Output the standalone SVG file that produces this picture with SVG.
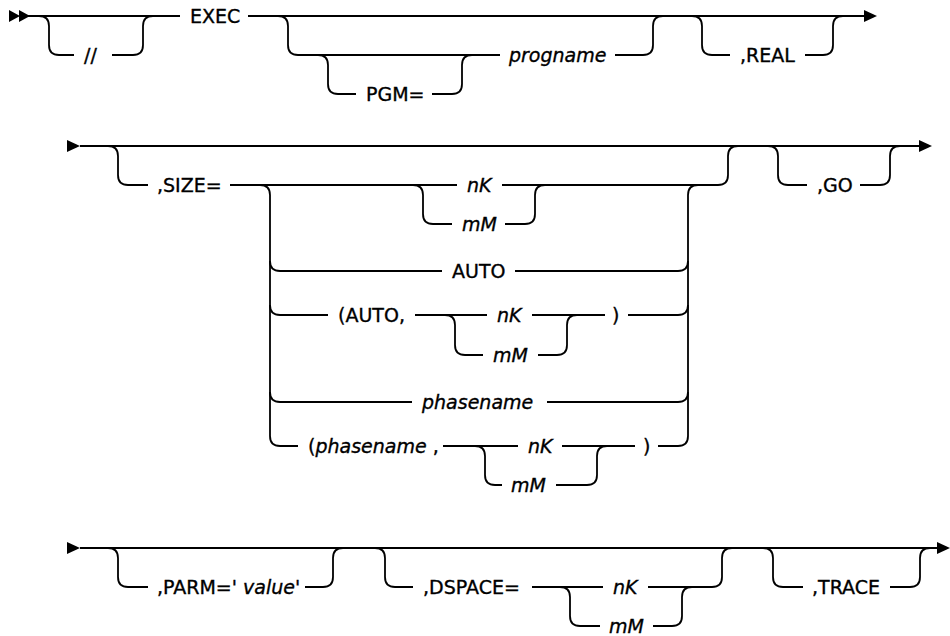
<svg xmlns="http://www.w3.org/2000/svg" width="950" height="636" viewBox="0 0 950 636">
<style>
.c{fill:none;stroke:#000;stroke-width:1.8}
.a{fill:#000;stroke:none}
text{font-family:"DejaVu Sans",sans-serif;font-size:19px;fill:#000;stroke:#000;stroke-width:0.35}
.i{font-style:italic}
</style>
<rect width="950" height="636" fill="#fff"/>
<g id="connectors">
<!-- Row 1 -->
<path class="a" d="M9,10 L20,16 L9,22 Z M19,10 L30,16 L19,22 Z"/>
<path class="c" d="M28,16 H180 M248,16 H866"/>
<path class="c" d="M39,16 Q49,16 49,26 V45 Q49,55 59,55 H74 M112,55 H133 Q143,55 143,45 V26 Q143,16 153,16"/>
<path class="c" d="M278,16 Q288,16 288,26 V45 Q288,55 298,55 H500 M615,55 H643 Q653,55 653,45 V26 Q653,16 663,16"/>
<path class="c" d="M318,55 Q328,55 328,65 V84 Q328,94 338,94 H356 M432,94 H452 Q462,94 462,84 V65 Q462,55 472,55"/>
<path class="c" d="M692,16 Q702,16 702,26 V45 Q702,55 712,55 H730 M805,55 H823 Q833,55 833,45 V26 Q833,16 843,16"/>
<path class="a" d="M864,10 L877,16 L864,22 Z"/>
<!-- Row 2 -->
<path class="a" d="M67,140 L80,146 L67,152 Z"/>
<path class="c" d="M80,146 H921"/>
<path class="c" d="M108,146 Q118,146 118,156 V175 Q118,185 128,185 H148 M230,185 H260 Q270,185 270,195 V436 Q270,446 280,446 H298"/>
<path class="c" d="M260,185 H457 M502,185 H718 Q728,185 728,175 V156 Q728,146 738,146"/>
<path class="c" d="M413,185 Q423,185 423,195 V214 Q423,224 433,224 H452 M505,224 H525 Q535,224 535,214 V195 Q535,185 545,185"/>
<path class="c" d="M688,436 V195 Q688,185 698,185"/>
<path class="c" d="M270,261 Q270,271 280,271 H442 M515,271 H678 Q688,271 688,261"/>
<path class="c" d="M270,305 Q270,315 280,315 H328 M415,315 H487 M532,315 H605 M628,315 H678 Q688,315 688,305"/>
<path class="c" d="M445,315 Q455,315 455,325 V345 Q455,355 465,355 H483 M538,355 H557 Q567,355 567,345 V325 Q567,315 577,315"/>
<path class="c" d="M270,392 Q270,402 280,402 H412 M547,402 H678 Q688,402 688,392"/>
<path class="c" d="M443,446 H518 M562,446 H635 M658,446 H678 Q688,446 688,436"/>
<path class="c" d="M475,446 Q485,446 485,456 V475 Q485,485 495,485 H502 M556,485 H587 Q597,485 597,475 V456 Q597,446 607,446"/>
<path class="c" d="M768,146 Q778,146 778,156 V175 Q778,185 788,185 H807 M860,185 H880 Q890,185 890,175 V156 Q890,146 900,146"/>
<path class="a" d="M919,140 L932,146 L919,152 Z"/>
<!-- Row 3 -->
<path class="a" d="M67,542 L80,548 L67,554 Z"/>
<path class="c" d="M80,548 H939"/>
<path class="c" d="M108,548 Q118,548 118,558 V577 Q118,587 128,587 H148 M305,587 H323 Q333,587 333,577 V558 Q333,548 343,548"/>
<path class="c" d="M375,548 Q385,548 385,558 V577 Q385,587 395,587 H413 M532,587 H603 M648,587 H712 Q722,587 722,577 V558 Q722,548 732,548"/>
<path class="c" d="M560,587 Q570,587 570,597 V616 Q570,626 580,626 H600 M653,626 H672 Q682,626 682,616 V597 Q682,587 692,587"/>
<path class="c" d="M763,548 Q773,548 773,558 V577 Q773,587 783,587 H803 M890,587 H910 Q920,587 920,577 V558 Q920,548 930,548"/>
<path class="a" d="M937,542 L950,548 L937,554 Z"/>
</g>
<g id="n-slash"><text x="84" y="62">//</text></g>
<g id="n-exec"><text x="190" y="23">EXEC</text></g>
<g id="n-pgm"><text x="366" y="101">PGM=</text></g>
<g id="n-progname"><text x="509" y="62" class="i">progname</text></g>
<g id="n-real"><text x="740" y="62">,REAL</text></g>
<g id="n-size"><text x="157" y="192">,SIZE=</text></g>
<g id="n-nk1"><text x="467" y="192" class="i">nK</text></g>
<g id="n-mm1"><text x="462" y="231" class="i">mM</text></g>
<g id="n-auto"><text x="452" y="278">AUTO</text></g>
<g id="n-autop"><text x="338" y="322">(AUTO,</text></g>
<g id="n-nk2"><text x="497" y="322" class="i">nK</text></g>
<g id="n-mm2"><text x="493" y="362" class="i">mM</text></g>
<g id="n-close1"><text x="612" y="322">)</text></g>
<g id="n-phase"><text x="422" y="409" class="i">phasename</text></g>
<g id="n-phasep"><text x="308" y="453">(<tspan class="i">phasename</tspan> ,</text></g>
<g id="n-nk3"><text x="528" y="453" class="i">nK</text></g>
<g id="n-mm3"><text x="511" y="492" class="i">mM</text></g>
<g id="n-close2"><text x="643" y="453">)</text></g>
<g id="n-go"><text x="817" y="192">,GO</text></g>
<g id="n-parm"><text x="157" y="594">,PARM=' <tspan class="i">value</tspan>'</text></g>
<g id="n-dspace"><text x="423" y="594">,DSPACE=</text></g>
<g id="n-nk4"><text x="613" y="594" class="i">nK</text></g>
<g id="n-mm4"><text x="609" y="633" class="i">mM</text></g>
<g id="n-trace"><text x="812" y="594">,TRACE</text></g>
</svg>
